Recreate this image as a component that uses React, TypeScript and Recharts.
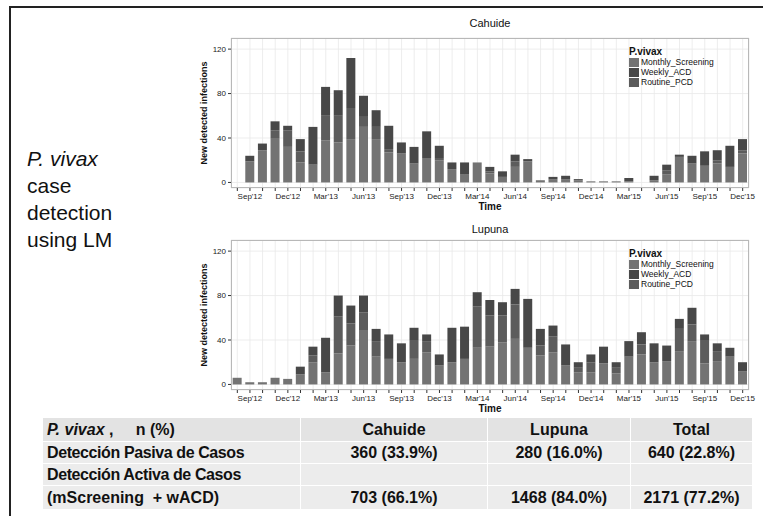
import React from 'react';
import { BarChart, Bar, XAxis, YAxis, CartesianGrid } from 'recharts';

const months = [
  "Aug'12", "Sep'12", "Oct'12", "Nov'12", "Dec'12",
  "Jan'13", "Feb'13", "Mar'13", "Apr'13", "May'13", "Jun'13", "Jul'13", "Aug'13", "Sep'13", "Oct'13", "Nov'13", "Dec'13",
  "Jan'14", "Feb'14", "Mar'14", "Apr'14", "May'14", "Jun'14", "Jul'14", "Aug'14", "Sep'14", "Oct'14", "Nov'14", "Dec'14",
  "Jan'15", "Feb'15", "Mar'15", "Apr'15", "May'15", "Jun'15", "Jul'15", "Aug'15", "Sep'15", "Oct'15", "Nov'15", "Dec'15",
];
const tickLabels = ["Sep'12", "Dec'12", "Mar'13", "Jun'13", "Sep'13", "Dec'13", "Mar'14", "Jun'14", "Sep'14", "Dec'14", "Mar'15", "Jun'15", "Sep'15", "Dec'15"];
const yTicks = [0, 40, 80, 120];

const seriesNames = ['Monthly_Screening', 'Weekly_ACD', 'Routine_PCD'];

// Cahuide
const cahuideMonthly = [0, 19, 29, 40, 32, 18, 16, 38, 36, 39, 50, 39, 27, 26, 17, 22, 20, 12, 7, 18, 8, 5, 14, 19, 2, 3, 3, 2, 1, 1, 1, 1, 0, 2, 7, 23, 17, 15, 17, 14, 26];
const cahuideRoutine = [0, 0, 0, 7, 15, 10, 0, 22, 24, 28, 9, 11, 3, 0, 0, 0, 2, 0, 0, 0, 2, 0, 5, 0, 0, 0, 0, 0, 0, 0, 0, 0, 0, 0, 4, 0, 0, 0, 3, 0, 3];
const cahuideWeekly = [0, 5, 6, 8, 4, 11, 34, 26, 23, 45, 19, 15, 21, 10, 15, 24, 11, 6, 11, 0, 4, 5, 6, 2, 0, 2, 3, 1, 0, 0, 0, 3, 0, 4, 5, 2, 7, 13, 9, 19, 10];

// Lupuna
const lupunaMonthly = [6, 2, 2, 6, 5, 9, 20, 11, 28, 35, 49, 25, 23, 20, 23, 29, 17, 20, 23, 33, 34, 38, 41, 33, 26, 29, 17, 11, 11, 19, 10, 25, 27, 20, 21, 30, 39, 19, 21, 25, 12];
const lupunaRoutine = [0, 0, 0, 0, 0, 0, 6, 0, 33, 20, 16, 14, 0, 0, 17, 10, 0, 0, 0, 37, 28, 24, 31, 0, 9, 14, 0, 4, 9, 0, 5, 0, 9, 0, 0, 20, 15, 21, 9, 0, 0];
const lupunaWeekly = [0, 0, 0, 0, 0, 7, 8, 31, 19, 16, 15, 11, 22, 17, 11, 6, 10, 31, 29, 13, 14, 12, 14, 44, 15, 10, 19, 5, 7, 15, 5, 14, 11, 17, 14, 9, 15, 5, 7, 8, 8];

// Table
const tableHeader = ['Cahuide', 'Lupuna', 'Total'];
const passiveRow = ['360 (33.9%)', '280 (16.0%)', '640 (22.8%)'];
const activeRow = ['703 (66.1%)', '1468 (84.0%)', '2171 (77.2%)'];

const COLORS: Record<string, string> = {
  Monthly_Screening: '#737373',
  Weekly_ACD: '#484848',
  Routine_PCD: '#5c5c5c',
};

const FONT = '"Liberation Sans", Arial, Helvetica, sans-serif';

function buildData(ms: number[], pcd: number[], acd: number[]) {
  return months.map((m, i) => ({
    month: m,
    Monthly_Screening: ms[i],
    Routine_PCD: pcd[i],
    Weekly_ACD: acd[i],
  }));
}

const LegendBox = () => (
  <div style={{ fontFamily: FONT, color: '#111' }}>
    <div style={{ fontSize: 10, fontWeight: 'bold', lineHeight: '11px', height: 11 }}>P.vivax</div>
    {seriesNames.map((n) => (
      <div key={n} style={{ display: 'flex', alignItems: 'center', height: 10 }}>
        <div style={{ width: 10, height: 9, background: COLORS[n] }} />
        <div style={{ fontSize: 8.5, marginLeft: 2, lineHeight: '10px' }}>{n}</div>
      </div>
    ))}
  </div>
);

function SiteChart({ title, data, top, titleTop }: { title: string; data: any[]; top: number; titleTop: number }) {
  return (
    <div style={{ position: 'absolute', left: 0, top, width: 763, height: 212 }}>
      <BarChart
        width={763}
        height={210}
        data={data}
        margin={{ top: 38, right: 14, bottom: 0, left: 201 }}
        barCategoryGap="13%"
      >
        <CartesianGrid stroke="#e8e8e8" strokeWidth={0.8} />
        <XAxis
          dataKey="month"
          interval={0}
          height={22}
          tickSize={3}
          tickMargin={2}
          axisLine={false}
          tickLine={{ stroke: '#333' }}
          tick={{ fontSize: 8, fill: '#222', fontFamily: FONT }}
          tickFormatter={(v: string) => (tickLabels.includes(v) ? v : '')}
        />
        <YAxis
          type="number"
          width={30}
          domain={[-5, 130]}
          allowDataOverflow
          ticks={yTicks}
          tickSize={3}
          tickMargin={2}
          axisLine={false}
          tickLine={{ stroke: '#333' }}
          tick={{ fontSize: 8, fill: '#222', fontFamily: FONT }}
        />
        <Bar dataKey="Monthly_Screening" stackId="a" fill={COLORS.Monthly_Screening} isAnimationActive={false} />
        <Bar dataKey="Routine_PCD" stackId="a" fill={COLORS.Routine_PCD} isAnimationActive={false} />
        <Bar dataKey="Weekly_ACD" stackId="a" fill={COLORS.Weekly_ACD} isAnimationActive={false} />
      </BarChart>
      {/* panel border */}
      <div
        style={{
          position: 'absolute', left: 230.5, top: 38, width: 518.5, height: 150,
          border: '1px solid #b8b8b8', boxSizing: 'border-box', pointerEvents: 'none',
        }}
      />
      <div style={{ position: 'absolute', left: 629, top: 46 }}>
        <LegendBox />
      </div>
      <div style={{ position: 'absolute', left: 390, width: 200, top: titleTop, textAlign: 'center', fontFamily: FONT, fontSize: 11, lineHeight: '12px', color: '#111' }}>
        {title}
      </div>
      <div
        style={{
          position: 'absolute', left: 204 - 75, top: 113 - 6, width: 150, height: 12, lineHeight: '12px',
          textAlign: 'center', transform: 'rotate(-90deg)', fontFamily: FONT, fontSize: 9, fontWeight: 'bold', color: '#111',
        }}
      >
        New detected infections
      </div>
      <div style={{ position: 'absolute', left: 440, width: 100, top: 201, textAlign: 'center', fontFamily: FONT, fontSize: 10, fontWeight: 'bold', lineHeight: '12px', color: '#111' }}>
        Time
      </div>
    </div>
  );
}

const colWidths = [258, 187, 143, 122];

export default function App() {
  const cahuideData = buildData(cahuideMonthly, cahuideRoutine, cahuideWeekly);
  const lupunaData = buildData(lupunaMonthly, lupunaRoutine, lupunaWeekly);
  const cellBase: React.CSSProperties = {
    fontFamily: FONT, fontSize: 16, fontWeight: 'bold', color: '#111', padding: 0,
    border: '1px solid #ffffff', whiteSpace: 'nowrap',
  };
  return (
    <div style={{ position: 'absolute', left: 0, top: 0, width: 763, height: 516, overflow: 'hidden', background: '#fff' }}>
      <div style={{ position: 'absolute', left: 9, top: 6, width: 900, height: 700, borderLeft: '2px solid #222', borderTop: '2px solid #222' }} />
      <div style={{ position: 'absolute', left: 27, top: 145, fontFamily: FONT, fontSize: 21, lineHeight: '27px', color: '#111' }}>
        <div style={{ fontStyle: 'italic' }}>P. vivax</div>
        <div>case</div>
        <div>detection</div>
        <div>using LM</div>
      </div>
      <SiteChart title="Cahuide" data={cahuideData} top={0} titleTop={17} />
      <SiteChart title="Lupuna" data={lupunaData} top={202} titleTop={21} />
      <table
        style={{
          position: 'absolute', left: 42, top: 417, width: 710, borderCollapse: 'collapse', tableLayout: 'fixed',
        }}
      >
        <colgroup>
          {colWidths.map((w, i) => <col key={i} style={{ width: w }} />)}
        </colgroup>
        <tbody>
          <tr style={{ height: 24, background: '#e3e3e3' }}>
            <td style={{ ...cellBase, paddingLeft: 4 }}>
              <i>P. vivax</i> ,{'\u00a0\u00a0\u00a0\u00a0\u00a0'}n (%)
            </td>
            {tableHeader.map((h) => <td key={h} style={{ ...cellBase, textAlign: 'center' }}>{h}</td>)}
          </tr>
          <tr style={{ height: 22, background: '#ececec' }}>
            <td style={{ ...cellBase, paddingLeft: 4, letterSpacing: -0.4 }}>Detección Pasiva de Casos</td>
            {passiveRow.map((v) => <td key={v} style={{ ...cellBase, textAlign: 'center' }}>{v}</td>)}
          </tr>
          <tr style={{ height: 22, background: '#ececec' }}>
            <td style={{ ...cellBase, paddingLeft: 4, letterSpacing: -0.4 }}>Detección Activa de Casos</td>
            {tableHeader.map((h) => <td key={h} style={cellBase}></td>)}
          </tr>
          <tr style={{ height: 24, background: '#ececec' }}>
            <td style={{ ...cellBase, paddingLeft: 4 }}>(mScreening{'\u00a0\u00a0'}+ wACD)</td>
            {activeRow.map((v) => <td key={v} style={{ ...cellBase, textAlign: 'center' }}>{v}</td>)}
          </tr>
        </tbody>
      </table>
    </div>
  );
}
